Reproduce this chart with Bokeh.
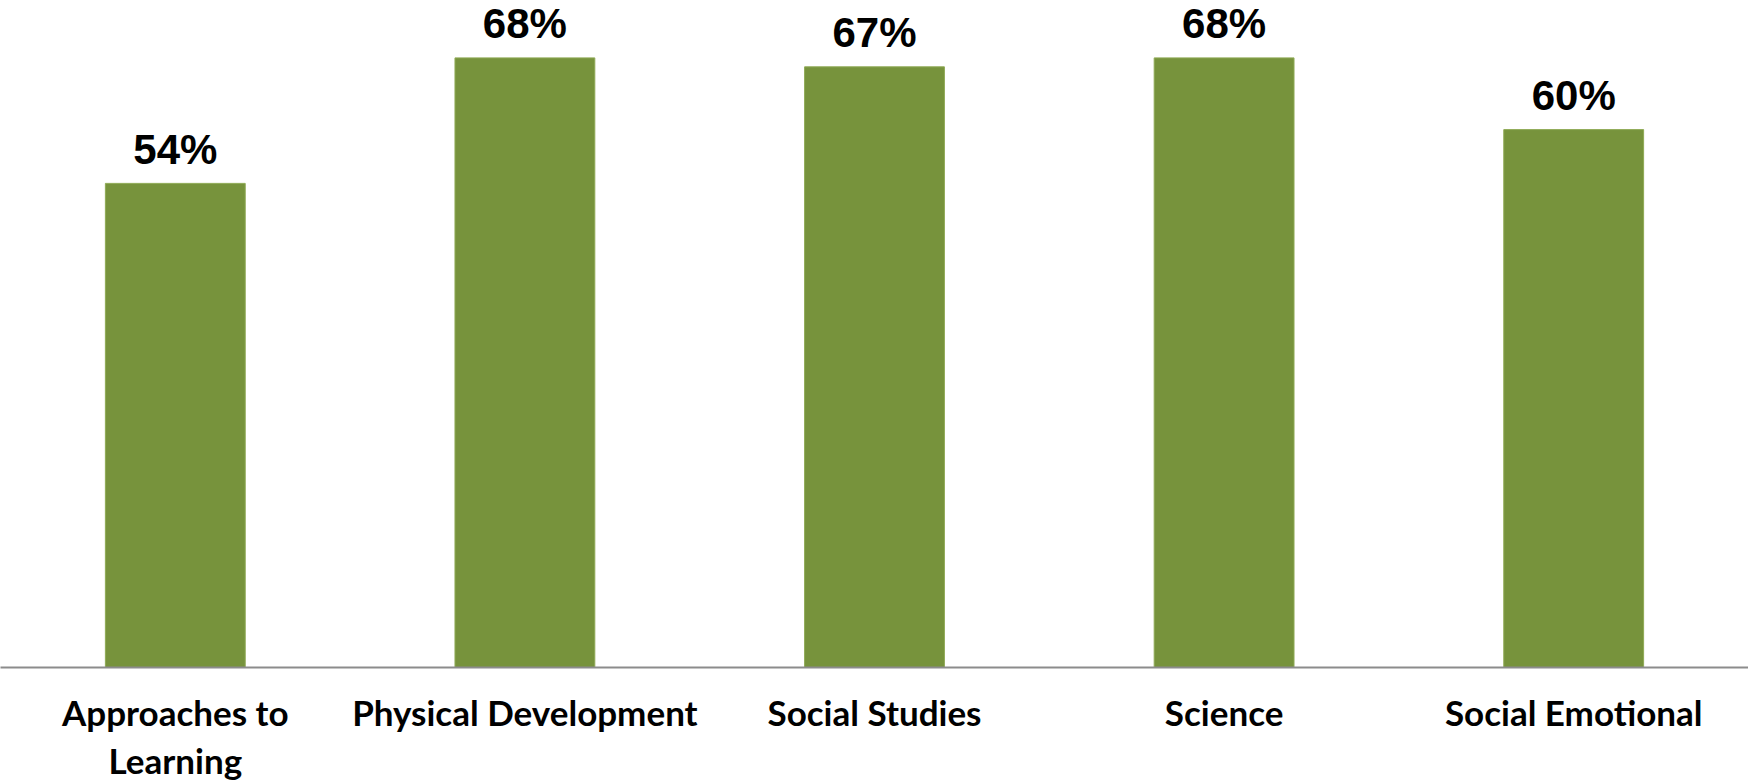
from bokeh.plotting import figure
from bokeh.models import ColumnDataSource, Range1d, FixedTicker
from bokeh.core.properties import value
from bokeh.embed import file_html
from bokeh.resources import INLINE

categories = ["Approaches to\nLearning", "Physical Development", "Social Studies", "Science", "Social Emotional"]
values = [54, 68, 67, 68, 60]
value_labels = [f"{v}%" for v in values]

BAR_COLOR = "#77933C"
frame_w = 1748
frame_h = 667
slot = frame_w / len(categories)

xs = list(range(len(categories)))
src = ColumnDataSource(dict(x=xs, top=values, label=value_labels))

p = figure(
    frame_width=frame_w, frame_height=frame_h,
    x_range=Range1d(-0.5, -0.5 + frame_w / slot),
    y_range=Range1d(0, 74.4),
    output_backend="svg", toolbar_location=None,
    min_border_left=0, min_border_right=0, min_border_top=0, min_border_bottom=0,
)

p.vbar(x="x", top="top", width=0.4, bottom=0, source=src,
       fill_color=BAR_COLOR, line_color="#8FAA55", line_width=1)

p.text(x="x", y="top", text="label", source=src,
       text_align="center", text_baseline="alphabetic", y_offset=-34,
       text_font=value("Liberation Sans"), text_font_style="bold",
       text_font_size="42px", text_color="black")

p.xaxis.ticker = FixedTicker(ticks=xs)
p.xaxis.major_label_overrides = {i: c for i, c in enumerate(categories)}
p.xaxis.major_label_text_font = "Lato"
p.xaxis.major_label_text_font_style = "bold"
p.xaxis.major_label_text_font_size = "35px"
p.xaxis.major_label_text_line_height = 1.15
p.xaxis.major_label_text_color = "black"
p.xaxis.major_label_standoff = 17
p.xaxis.major_tick_line_color = None
p.xaxis.minor_tick_line_color = None
p.xaxis.axis_line_color = "#8C8C8C"
p.xaxis.axis_line_width = 2
p.yaxis.visible = False
p.xgrid.grid_line_color = None
p.ygrid.grid_line_color = None
p.outline_line_color = None
p.background_fill_color = "white"
p.border_fill_color = "white"

open("out.html", "w").write(file_html(p, INLINE))
